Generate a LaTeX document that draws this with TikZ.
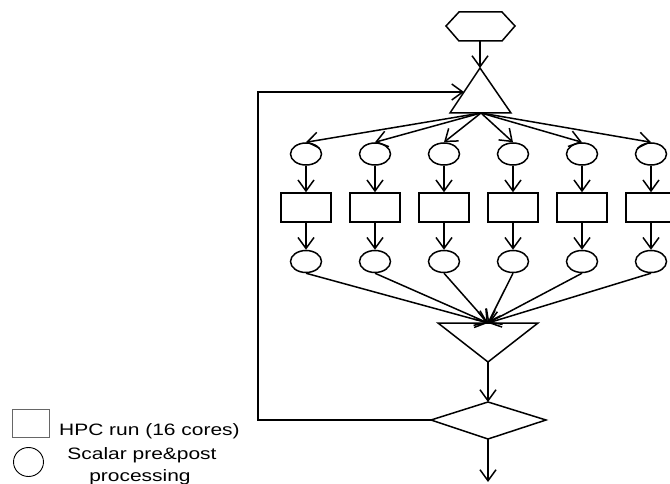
\documentclass[tikz,border=0pt]{standalone}
\usepackage{fontspec}
\setmainfont{Liberation Sans}
\usetikzlibrary{arrows.meta,shapes.geometric}
\tikzset{
  ln/.style={line width=1.5pt, line join=miter},
  arr/.style={ln, -{Straight Barb[length=11pt,width=16pt,line width=1.5pt]}},
  oval/.style={draw, ln, ellipse, minimum width=31pt, minimum height=22pt, inner sep=0pt},
  hpcbox/.style={draw, ln, rectangle, minimum width=50pt, minimum height=29pt, inner sep=0pt},
  legtext/.style={font=\fontsize{16.5}{19}\selectfont, inner sep=0pt}
}
\newcommand{\wide}[1]{\scalebox{1.27}[1]{#1}}
\begin{document}
\begin{tikzpicture}[x=1pt,y=-1pt]
\useasboundingbox (0,0) rectangle (670,484);
\clip (0,0) rectangle (670,484);
% hexagon
\draw[ln] (446,26) -- (459,12) -- (502,12) -- (515,26) -- (502,41) -- (459,41) -- cycle;
\coordinate (hexb) at (480,41);
% top triangle
\draw[ln] (480,68) -- (511,113) -- (450,113) -- cycle;
\coordinate (tria) at (480,68);
\coordinate (trib) at (481,113);
\coordinate (tril) at (464,92);
\draw[arr] (hexb) -- (tria);
% branches
\foreach \i/\x in {1/306,2/375,3/444,4/513,5/582,6/651}{
  \node[oval] (a\i) at (\x,154) {};
  \node[hpcbox] (r\i) at (\x,207.5) {};
  \node[oval] (b\i) at (\x,261.5) {};
  \draw[arr] (trib) -- (a\i.north);
  \draw[arr] (a\i.south) -- (r\i.north);
  \draw[arr] (r\i.south) -- (b\i.north);
}
% bottom triangle
\draw[ln] (438,323) -- (538,323) -- (488,362) -- cycle;
\coordinate (conv) at (488,323);
\coordinate (trd) at (488,362);
\foreach \i in {1,...,6}{
  \draw[arr] (b\i.south) -- (conv);
}
% diamond
\draw[ln] (431,420) -- (488,402) -- (546,420) -- (488,439) -- cycle;
\coordinate (dt) at (488,402);
\coordinate (dl) at (431,420);
\coordinate (db) at (488,439);
\coordinate (out) at (488,482);
\coordinate (lc1) at (258,420);
\coordinate (lc2) at (258,92);
\draw[arr] (trd) -- (dt);
\draw[arr] (db) -- (out);
\draw[arr] (dl) -- (lc1) -- (lc2) -- (tril);
% legend
\node[draw=black!60, line width=0.8pt, minimum width=37pt, minimum height=28pt, inner sep=0pt] (lbox) at (30.5,423) {};
\node[draw, line width=0.9pt, ellipse, minimum width=30pt, minimum height=29pt, inner sep=0pt] (lcirc) at (28.5,462) {};
\node[legtext, anchor=base west] (lt1) at (59,435) {\wide{HPC run (16 cores)}};
\node[legtext, anchor=base] (lt2) at (142,459) {\wide{Scalar pre\&post}};
\node[legtext, anchor=base] (lt3) at (140,481) {\wide{processing}};
\end{tikzpicture}
\end{document}
